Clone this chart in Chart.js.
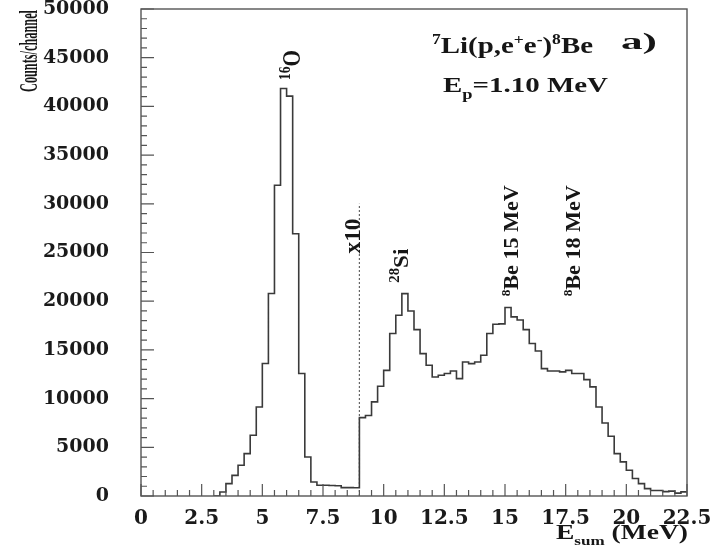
<!DOCTYPE html>
<html>
<head>
<meta charset="utf-8">
<script src="https://cdn.jsdelivr.net/npm/chart.js@4.4.1/dist/chart.umd.min.js"></script>
<style>
  body { margin: 0; background: #fff; }
  #wrap { width: 725px; height: 548px; position: relative; }
</style>
</head>
<body>
<div id="wrap"><canvas id="spec"></canvas></div>
<script>
// histogram bins: lower edge of first bin and bin width (MeV)
const binStart = 3.0;
const binWidth = 0.25;

// counts/channel, 3.0 - 9.0 MeV (drawn as is)
const countsLow = [0, 410, 1270, 2120, 3160, 4350, 6240, 9140, 13600, 20790, 31900, 41840,
  41050, 26930, 12570, 4000, 1440, 1100, 1100, 1080, 1060, 860, 860, 850];

// counts/channel, 9.0 - 22.5 MeV (already multiplied by 10)
const countsX10 = [8050, 8260, 9660, 11270, 12900, 16680, 18550, 20780, 19000, 17080, 14620, 13420,
  12220, 12400, 12570, 12840, 12050, 13760, 13590, 13760, 14450, 16680, 17630, 17670,
  19350, 18390, 18070, 17080, 15650, 14890, 13080, 12840, 12840, 12740, 12900, 12570,
  12570, 11950, 11200, 9140, 7500, 6130, 4350, 3500, 2640, 1790, 1270, 760,
  560, 560, 450, 500, 300, 420];

// x10 marker (dotted line)
const x10At = 9.0;
const x10Top = 30000;

// axis ticks
const xTicks = [0, 2.5, 5, 7.5, 10, 12.5, 15, 17.5, 20, 22.5];
const yTicks = [0, 5000, 10000, 15000, 20000, 25000, 30000, 35000, 40000, 45000, 50000];

// peak labels: text parts, energy (MeV), counts where the text starts
const peakNotes = [
  { parts: [['16', 'sup'], ['O']], e: 6.55, c: 42700 },
  { parts: [['x10']], e: 9.02, c: 24900 },
  { parts: [['28', 'sup'], ['Si']], e: 11.0, c: 21900 },
  { parts: [['8', 'sup'], ['Be 15 MeV']], e: 15.53, c: 20500 },
  { parts: [['8', 'sup'], ['Be 18 MeV']], e: 18.09, c: 20500 }
];
const noteStyle = [
  { size: 25, len: 30 }, { size: 23, len: 35 }, { size: 22, len: 34 },
  { size: 20, len: 111 }, { size: 20, len: 111 }
];

const allCounts = countsLow.concat(countsX10);
const histPts = allCounts.map((c, i) => ({ x: binStart + i * binWidth, y: c }));
histPts.push({ x: binStart + allCounts.length * binWidth, y: allCounts[allCounts.length - 1] });

function richText(ctx, parts, px, py, size, len, rot) {
  const fontFor = p => `bold ${p[1] ? Math.round(size * 0.62) : size}px "Liberation Serif"`;
  let w = 0;
  parts.forEach(p => { ctx.font = fontFor(p); w += ctx.measureText(p[0]).width; });
  ctx.save();
  ctx.translate(px, py);
  if (rot) ctx.rotate(-Math.PI / 2);
  ctx.scale(len / w, 1);
  ctx.textAlign = 'left';
  ctx.textBaseline = 'alphabetic';
  let cx = 0;
  parts.forEach(p => {
    ctx.font = fontFor(p);
    const dy = p[1] === 'sup' ? -size * 0.4 : p[1] === 'sub' ? size * 0.3 : 0;
    ctx.fillText(p[0], cx, dy);
    cx += ctx.measureText(p[0]).width;
  });
  ctx.restore();
}

const framePlugin = {
  id: 'frame',
  afterDatasetsDraw(chart) {
    const { ctx, chartArea: a, scales: { x, y } } = chart;
    ctx.save();
    ctx.strokeStyle = '#555';
    ctx.lineWidth = 1.4;
    ctx.strokeRect(a.left, a.top, a.right - a.left, a.bottom - a.top);
    ctx.lineWidth = 1.2;
    ctx.beginPath();
    for (let k = 0; k <= 45; k++) {
      const px = x.getPixelForValue(k * 0.5);
      ctx.moveTo(px, a.bottom);
      ctx.lineTo(px, a.bottom - (k % 5 === 0 ? 12 : 6));
    }
    for (let k = 0; k <= 50; k++) {
      const py = y.getPixelForValue(k * 1000);
      ctx.moveTo(a.left, py);
      ctx.lineTo(a.left + (k % 5 === 0 ? 13 : 6), py);
    }
    ctx.stroke();

    ctx.fillStyle = '#161616';
    peakNotes.forEach((n, i) => {
      richText(ctx, n.parts, x.getPixelForValue(n.e), y.getPixelForValue(n.c),
        noteStyle[i].size, noteStyle[i].len, true);
    });
    richText(ctx, [['7', 'sup'], ['Li(p,e'], ['+', 'sup'], ['e'], ['-', 'sup'], [')'], ['8', 'sup'], ['Be']],
      432, 53, 23, 161, false);
    richText(ctx, [['a)']], 621, 49, 23, 36, false);
    richText(ctx, [['E'], ['p', 'sub'], ['=1.10 MeV']], 443, 92, 22, 165, false);
    richText(ctx, [['E'], ['sum', 'sub'], [' (MeV)']], 556, 539, 21, 132, false);
    richText(ctx, [['Counts/channel']], 37, 92, 26, 82, true);
    ctx.restore();
  }
};

const tickFont = { family: '"DejaVu Serif"', weight: 'bold', size: 19 };

new Chart(document.getElementById('spec'), {
  type: 'line',
  data: {
    datasets: [
      {
        data: histPts,
        stepped: true,
        borderColor: '#3a3a3a',
        borderWidth: 1.6,
        pointRadius: 0,
        fill: false
      },
      {
        data: [{ x: x10At, y: 0 }, { x: x10At, y: x10Top }],
        borderColor: '#666',
        borderWidth: 1.2,
        borderDash: [2, 2],
        pointRadius: 0,
        fill: false
      }
    ]
  },
  options: {
    responsive: true,
    maintainAspectRatio: false,
    animation: false,
    layout: { padding: { left: 0, top: 9, right: 38, bottom: 0 } },
    plugins: { legend: { display: false }, tooltip: { enabled: false } },
    scales: {
      x: {
        type: 'linear',
        min: 0,
        max: 22.5,
        grid: { display: false },
        border: { display: false },
        afterBuildTicks: s => { s.ticks = xTicks.map(v => ({ value: v })); },
        afterFit: s => { s.height = 52; s.paddingLeft = 0; s.paddingRight = 0; },
        ticks: {
          color: '#1a1a1a',
          font: { family: '"DejaVu Serif"', weight: 'bold', size: 20 },
          padding: 3,
          maxRotation: 0,
          autoSkip: false,
          callback: v => String(v)
        }
      },
      y: {
        min: 0,
        max: 50000,
        grid: { display: false },
        border: { display: false },
        afterBuildTicks: s => { s.ticks = yTicks.map(v => ({ value: v })); },
        afterFit: s => { s.width = 141; s.paddingTop = 0; s.paddingBottom = 0; },
        ticks: {
          color: '#1a1a1a',
          font: tickFont,
          padding: 24,
          callback: v => String(v)
        }
      }
    }
  },
  plugins: [framePlugin]
});
</script>
</body>
</html>
